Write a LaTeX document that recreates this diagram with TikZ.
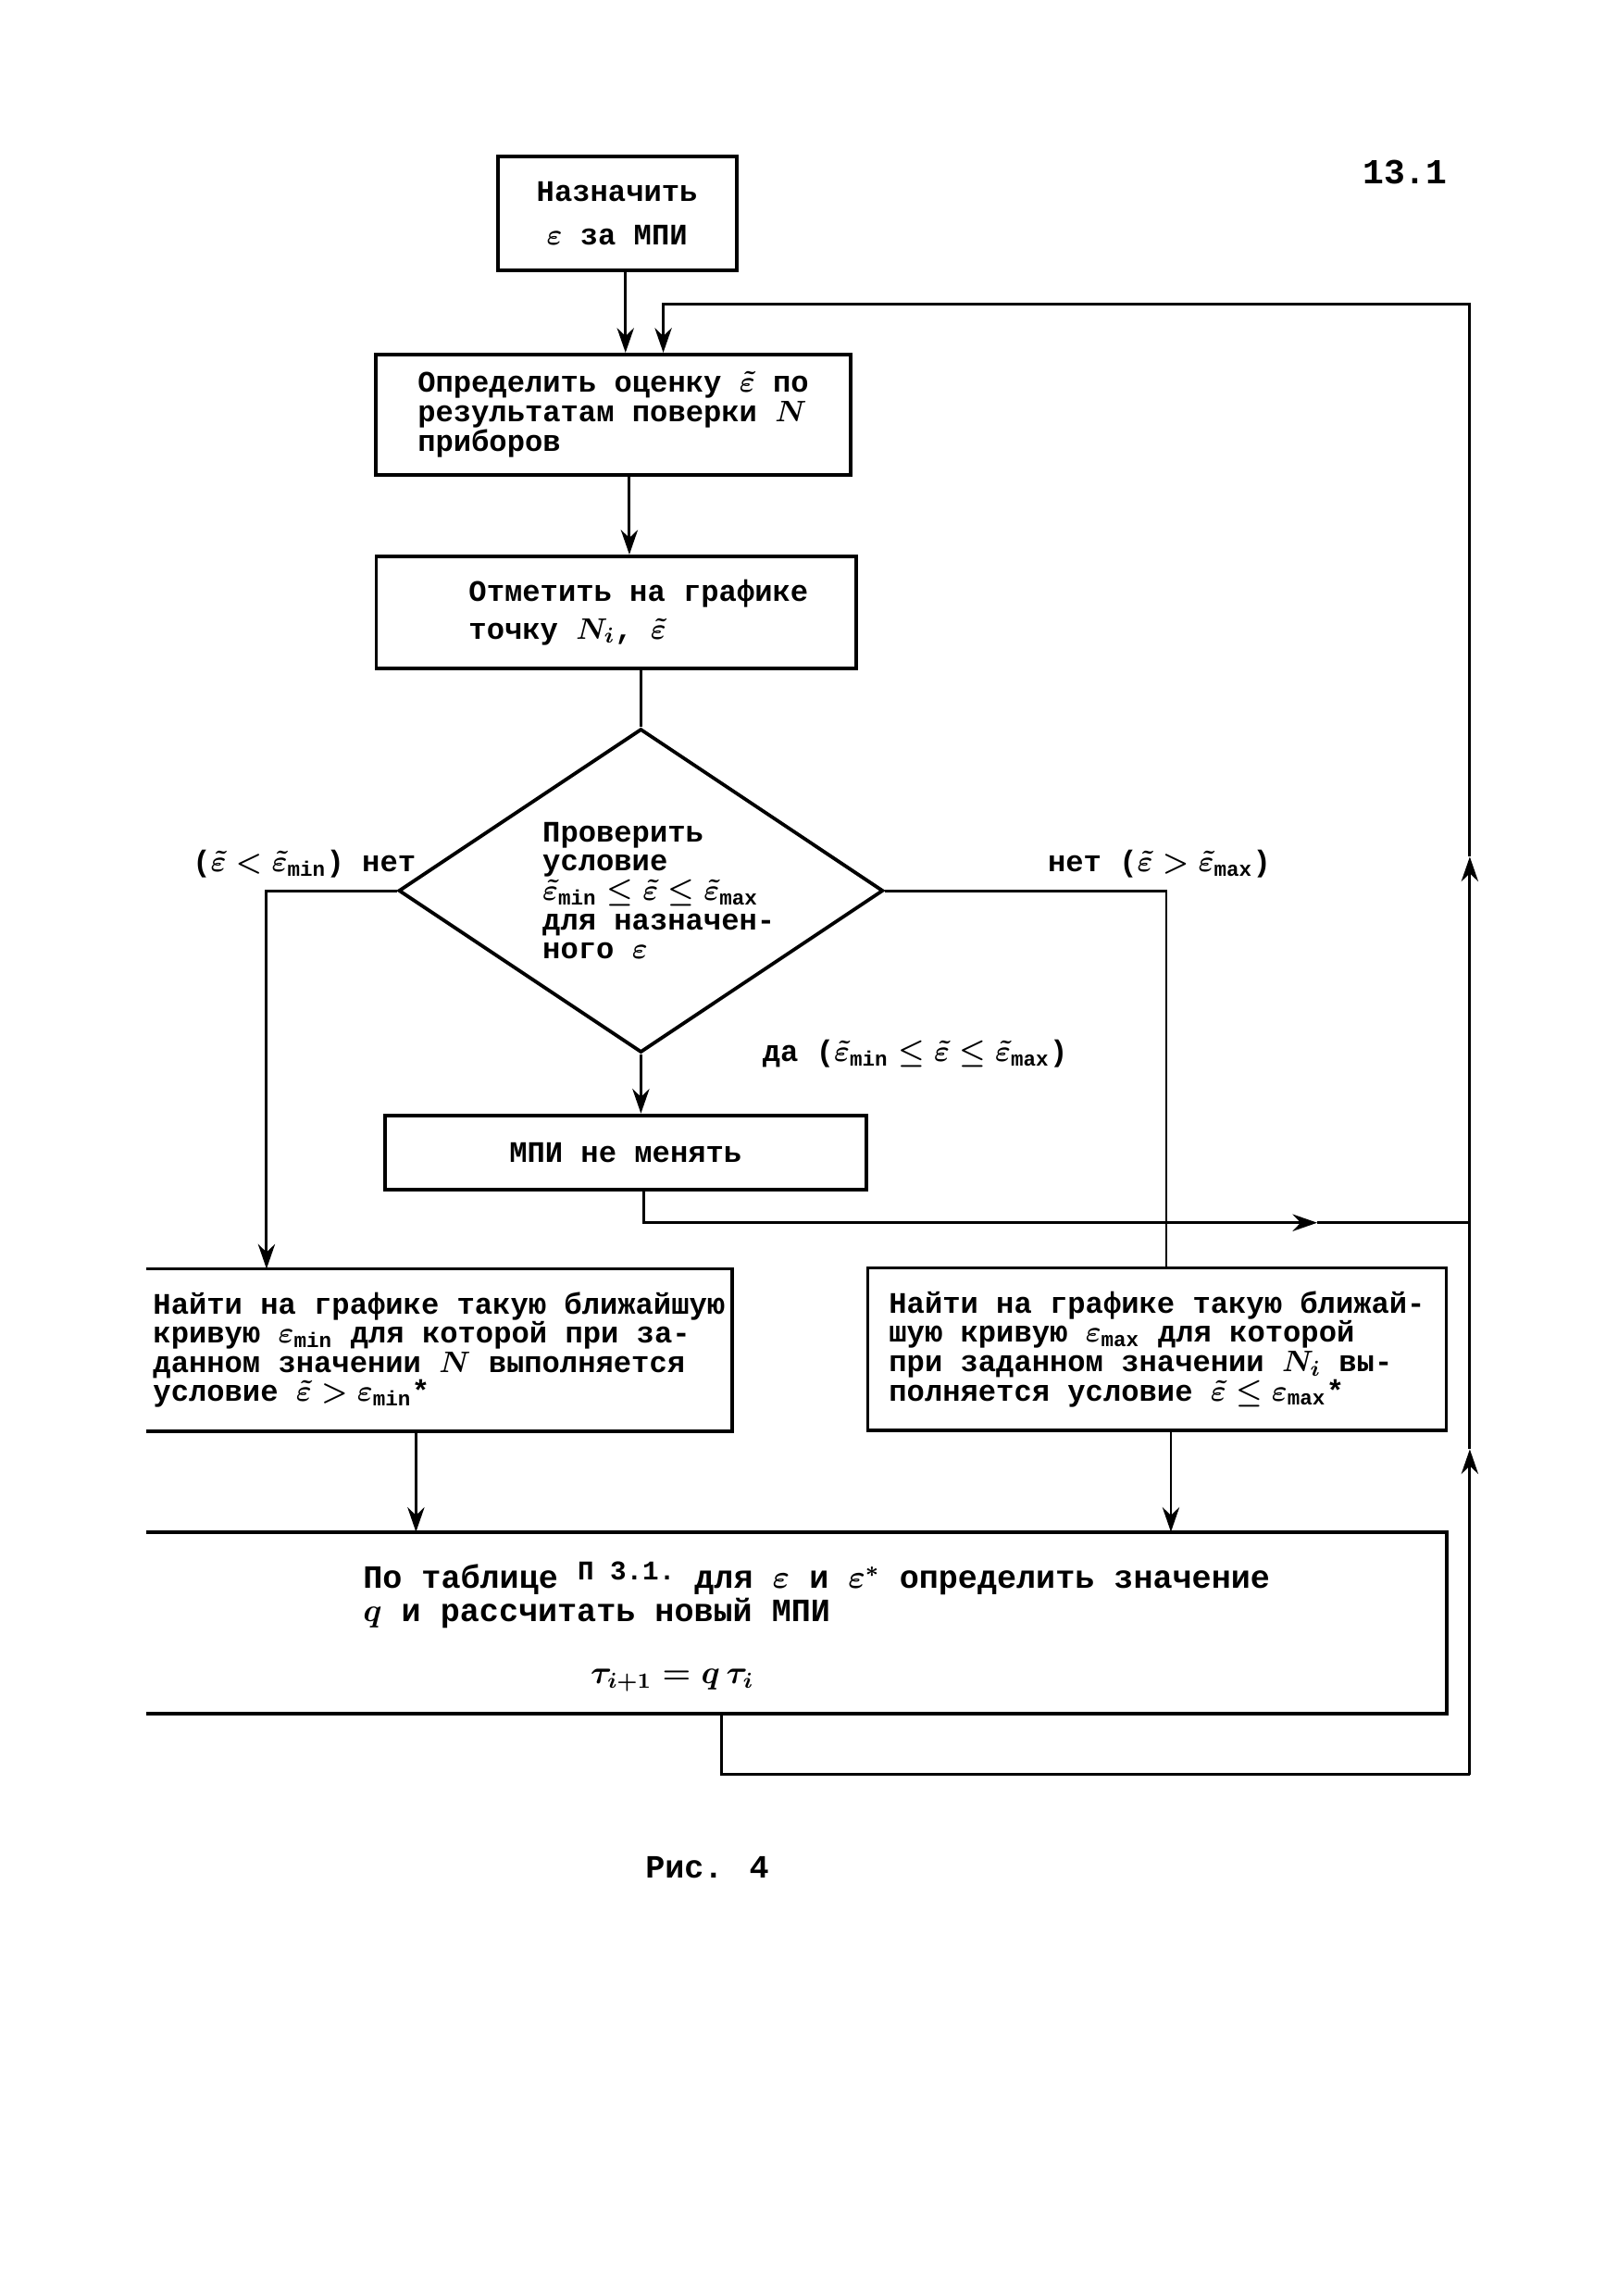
\documentclass[tikz,border=0pt]{standalone}
\usepackage{amsmath,amssymb}
\usepackage{fontspec}
\setmainfont{Liberation Mono}
\usepackage{tikz}
\usetikzlibrary{arrows.meta,positioning,calc,shapes.geometric}

\begin{document}
\begin{tikzpicture}[font=\bfseries\boldmath\fontsize{11}{10.8}\selectfont,>={Stealth[length=3.2mm,width=2.2mm]},
  blk/.style={draw,line width=1.3pt,align=left,inner sep=2pt},
  openblk/.style={align=left,inner sep=1pt},
  cond/.style={draw,diamond,line width=1.3pt,align=left,inner sep=0pt,shape aspect=1.5},
  lbl/.style={inner sep=1pt},
  arr/.style={->,line width=1pt},
  ln/.style={line width=1pt}]
\useasboundingbox (0,0) rectangle (21,-29.8);
\node[lbl,font=\bfseries\fontsize{13}{13}\selectfont] (pageno) at (18.24,-2.24) {13.1};
% TOP
\node[blk,minimum width=3.10cm,minimum height=1.48cm,align=center] (assign) at (8.01,-2.77) {Назначить\\[5pt] $\varepsilon$ за МПИ};
\node[blk,minimum width=6.16cm,minimum height=1.56cm] (estimate) at (7.96,-5.38)
  {Определить оценку $\tilde{\varepsilon}$ по\\ результатам поверки $N$\\ приборов};
\node[blk,minimum width=6.23cm,minimum height=1.46cm] (mark) at (8.00,-7.95)
  {\hspace*{1.5em}Отметить на графике\\[3pt] \hspace*{1.5em}точку $N_i$, $\tilde{\varepsilon}$};
\node[cond,minimum width=6.29cm,minimum height=4.20cm] (check) at (8.32,-11.56)
  {\hspace*{1.2em}Проверить\\ \hspace*{1.2em}условие\\ \hspace*{1.2em}$\tilde{\varepsilon}_{\min}\le\tilde{\varepsilon}\le\tilde{\varepsilon}_{\max}$\\ \hspace*{1.2em}для назначен-\\ \hspace*{1.2em}ного $\varepsilon$};
\node[lbl] (nolow) at (3.95,-11.21) {($\tilde{\varepsilon}<\tilde{\varepsilon}_{\min}$) нет};
\node[lbl] (nohigh) at (15.05,-11.21) {нет ($\tilde{\varepsilon}>\tilde{\varepsilon}_{\max}$)};
\node[lbl] (yes) at (11.88,-13.68) {да ($\tilde{\varepsilon}_{\min}\le\tilde{\varepsilon}\le\tilde{\varepsilon}_{\max}$)};
\node[blk,minimum width=6.25cm,minimum height=0.97cm,align=center] (keep) at (8.12,-14.96) {МПИ не менять};
% BRANCHES
\node[openblk,minimum width=7.60cm,minimum height=2.09cm] (lfind) at (5.70,-17.52)
  {Найти на графике такую ближайшую\\ кривую $\varepsilon_{\min}$ для которой при за-\\ данном значении $N$ выполняется\\ условие $\tilde{\varepsilon}>\varepsilon_{\min}$*};
\node[blk,minimum width=7.51cm,minimum height=2.11cm] (rfind) at (15.02,-17.51)
  {Найти на графике такую ближай-\\ шую кривую $\varepsilon_{\max}$ для которой\\ при заданном значении $N_i$ вы-\\ полняется условие $\tilde{\varepsilon}\le\varepsilon_{\max}$*};
\node[openblk,minimum width=16.87cm,minimum height=2.34cm,font=\bfseries\boldmath\fontsize{12}{11}\selectfont] (table) at (10.60,-21.06)
  {\\[2pt]По таблице \raisebox{0.5ex}{\fontsize{10}{10}\selectfont П 3.1.} для $\varepsilon$ и $\varepsilon^{\ast}$ определить значение\\ $q$ и рассчитать новый МПИ\\[12pt] \hspace*{7em}$\tau_{i+1}=q\,\tau_i$};
\node[lbl,font=\bfseries\fontsize{12}{12}\selectfont] (caption) at (9.18,-24.24) {Рис. 4};
% open boxes
\draw[line width=1.3pt] (lfind.north west) -- (lfind.north east) -- (lfind.south east) -- (lfind.south west);
\draw[line width=1.3pt] ([xshift=-0.26cm]table.north west) -- ([xshift=-0.26cm]table.north east) -- ([xshift=-0.26cm]table.south east) -- ([xshift=-0.26cm]table.south west);
% return path
\coordinate (tb) at (9.37,-23.03);
\coordinate (rb) at (19.08,-23.03);
\coordinate (ru1) at (19.08,-18.81);
\coordinate (ru2) at (19.08,-11.12);
\coordinate (rt) at (19.08,-3.95);
\coordinate (lt) at (8.61,-3.95);
\coordinate (kmid) at (17.10,-15.87);
% CONNECTORS
\draw[arr] ([xshift=0.11cm]assign.south) -- ([xshift=0.11cm]assign.south |- estimate.north);
\draw[arr] ([xshift=0.21cm]estimate.south) -- ([xshift=0.21cm]estimate.south |- mark.north);
\draw[ln] (check.north |- mark.south) -- (check.north);
\draw[arr] (check.south) -- (check.south |- keep.north);
\draw[arr] (check.west) -| ([xshift=-2.24cm]lfind.north);
\draw[ln] (check.east) -| ([xshift=0.12cm]rfind.north);
\draw[arr] ([xshift=0.24cm]keep.south) |- (kmid);
\draw[ln] (kmid) -- (kmid -| rb);
\draw[arr] ([xshift=-0.30cm]lfind.south) -- ([xshift=-0.30cm]lfind.south |- table.north);
\draw[arr] ([xshift=0.18cm]rfind.south) -- ([xshift=0.18cm]rfind.south |- table.north);
\draw[ln] (table.south -| tb) -- (tb) -- (rb);
\draw[arr] (rb) -- (ru1);
\draw[arr] (ru1) -- (ru2);
\draw[arr] (ru2) -- (rt) -- (lt) -- (lt |- estimate.north);
\end{tikzpicture}
\end{document}
